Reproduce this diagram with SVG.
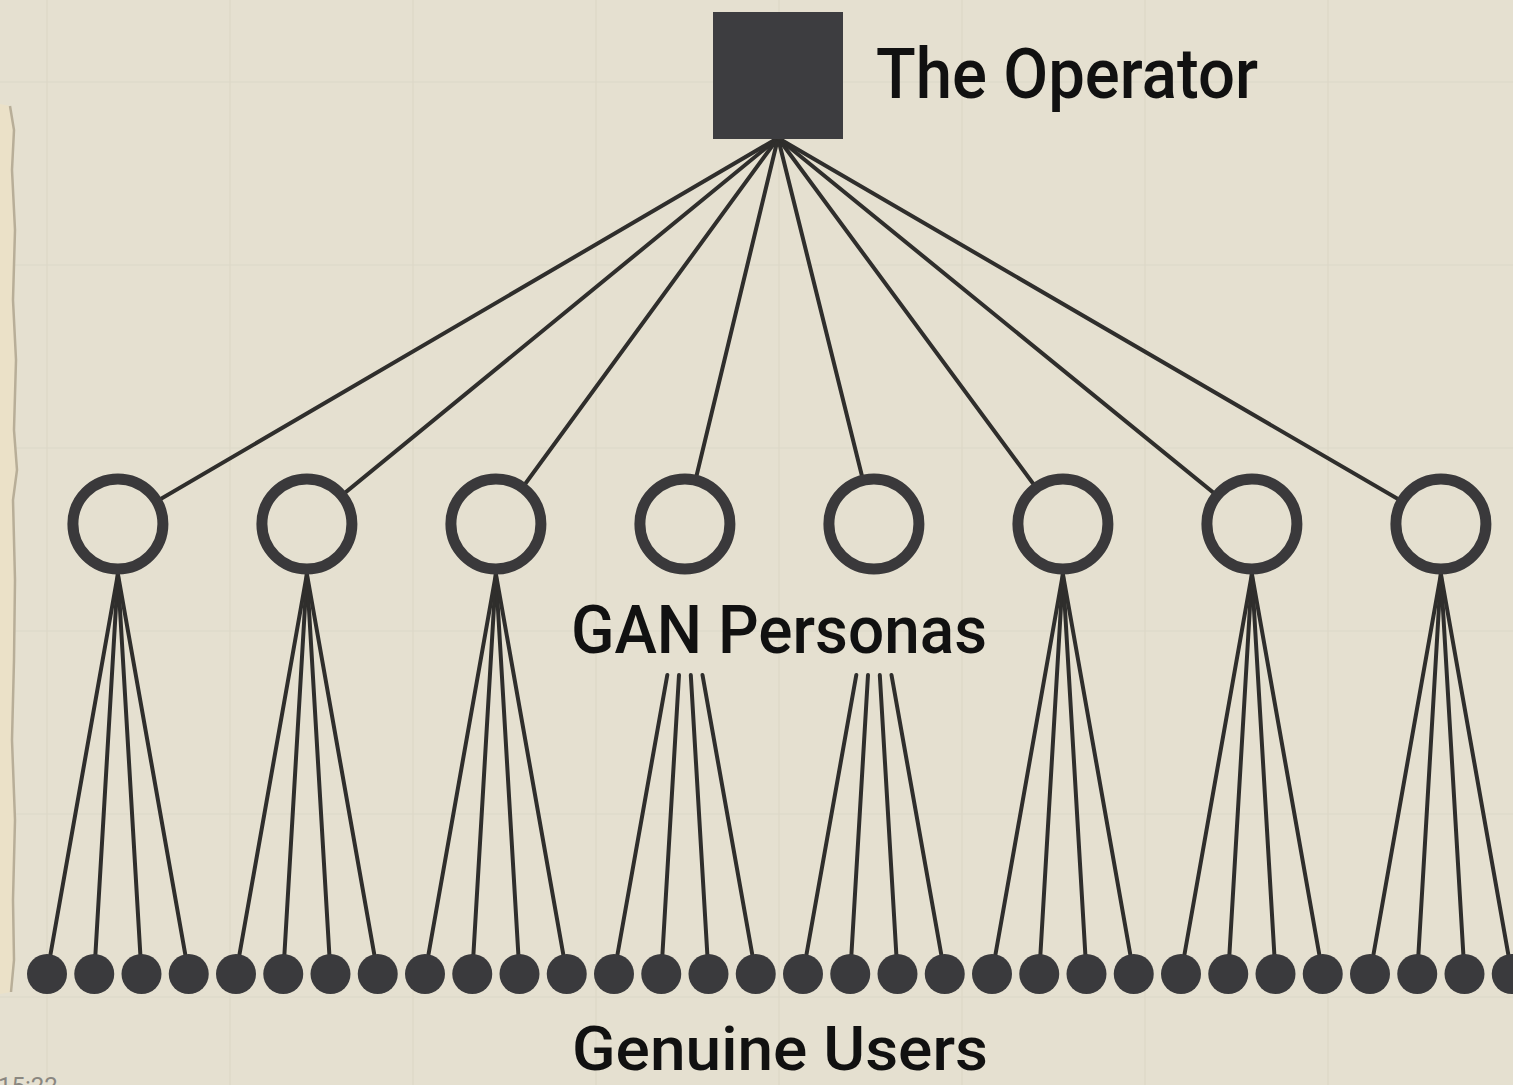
<svg xmlns="http://www.w3.org/2000/svg" width="1513" height="1085" viewBox="0 0 1513 1085">
<defs>
<style>
.bg{fill:#e5e0d0}
.grid{stroke:#dcd7c7;stroke-width:1.2;fill:none}
.link{stroke:#2f2e2c;stroke-width:4;stroke-linecap:round;fill:none}
.persona{fill:#e5e0d0;stroke:#3a393b;stroke-width:11}
.user{fill:#3a3a3d}
.op{fill:#3d3d40}
.label{font-family:Roboto,"Liberation Sans",sans-serif;font-weight:500;fill:#111111}
</style>
</defs>
<rect class="bg" x="0" y="0" width="1513" height="1085"/>
<g id="paper-grid">
<path class="grid" d="M47 0V1085M230 0V1085M413 0V1085M596 0V1085M779 0V1085M962 0V1085M1145 0V1085M1328 0V1085M0 82H1513M0 265H1513M0 448H1513M0 631H1513M0 814H1513M0 997H1513"/>
</g>
<g id="torn-strip">
<path d="M0 104 L10 106 L14 130 L12 170 L15 230 L13 300 L16 360 L14 430 L17 470 L13 500 L15 580 L14 660 L12 740 L15 820 L13 900 L14 960 L11 992 L0 994 Z" fill="#ebe1c8"/>
<path d="M10 106 L14 130 L12 170 L15 230 L13 300 L16 360 L14 430 L17 470 L13 500 L15 580 L14 660 L12 740 L15 820 L13 900 L14 960 L11 992" fill="none" stroke="#b8ae98" stroke-width="2.5"/>
</g>
<g id="connectors">
<g id="operator-links">
<line class="link" x1="778" y1="138" x2="117.9" y2="524"/>
<line class="link" x1="778" y1="138" x2="306.9" y2="524"/>
<line class="link" x1="778" y1="138" x2="495.9" y2="524"/>
<line class="link" x1="778" y1="138" x2="684.9" y2="524"/>
<line class="link" x1="778" y1="138" x2="873.9" y2="524"/>
<line class="link" x1="778" y1="138" x2="1062.9" y2="524"/>
<line class="link" x1="778" y1="138" x2="1251.9" y2="524"/>
<line class="link" x1="778" y1="138" x2="1440.9" y2="524"/>
</g>
<g id="persona-links">
<line class="link" x1="117.9" y1="574" x2="47" y2="974"/>
<line class="link" x1="117.9" y1="574" x2="94.25" y2="974"/>
<line class="link" x1="117.9" y1="574" x2="141.5" y2="974"/>
<line class="link" x1="117.9" y1="574" x2="188.75" y2="974"/>
<line class="link" x1="306.9" y1="574" x2="236" y2="974"/>
<line class="link" x1="306.9" y1="574" x2="283.25" y2="974"/>
<line class="link" x1="306.9" y1="574" x2="330.5" y2="974"/>
<line class="link" x1="306.9" y1="574" x2="377.75" y2="974"/>
<line class="link" x1="495.9" y1="574" x2="425" y2="974"/>
<line class="link" x1="495.9" y1="574" x2="472.25" y2="974"/>
<line class="link" x1="495.9" y1="574" x2="519.5" y2="974"/>
<line class="link" x1="495.9" y1="574" x2="566.75" y2="974"/>
<line class="link" x1="667.3" y1="675" x2="614" y2="974"/>
<line class="link" x1="679.0" y1="675" x2="661.25" y2="974"/>
<line class="link" x1="690.8" y1="675" x2="708.5" y2="974"/>
<line class="link" x1="702.5" y1="675" x2="755.75" y2="974"/>
<line class="link" x1="856.3" y1="675" x2="803" y2="974"/>
<line class="link" x1="868.0" y1="675" x2="850.25" y2="974"/>
<line class="link" x1="879.8" y1="675" x2="897.5" y2="974"/>
<line class="link" x1="891.5" y1="675" x2="944.75" y2="974"/>
<line class="link" x1="1062.9" y1="574" x2="992" y2="974"/>
<line class="link" x1="1062.9" y1="574" x2="1039.25" y2="974"/>
<line class="link" x1="1062.9" y1="574" x2="1086.5" y2="974"/>
<line class="link" x1="1062.9" y1="574" x2="1133.75" y2="974"/>
<line class="link" x1="1251.9" y1="574" x2="1181" y2="974"/>
<line class="link" x1="1251.9" y1="574" x2="1228.25" y2="974"/>
<line class="link" x1="1251.9" y1="574" x2="1275.5" y2="974"/>
<line class="link" x1="1251.9" y1="574" x2="1322.75" y2="974"/>
<line class="link" x1="1440.9" y1="574" x2="1370" y2="974"/>
<line class="link" x1="1440.9" y1="574" x2="1417.25" y2="974"/>
<line class="link" x1="1440.9" y1="574" x2="1464.5" y2="974"/>
<line class="link" x1="1440.9" y1="574" x2="1511.75" y2="974"/>
</g>
</g>
<g id="operator">
<rect class="op" x="713" y="12" width="130" height="127"/>
<text class="label" x="876" y="98" font-size="71" textLength="382" lengthAdjust="spacingAndGlyphs">The Operator</text>
</g>
<g id="personas">
<circle id="persona-1" class="persona" cx="117.9" cy="524" r="45"/>
<circle id="persona-2" class="persona" cx="306.9" cy="524" r="45"/>
<circle id="persona-3" class="persona" cx="495.9" cy="524" r="45"/>
<circle id="persona-4" class="persona" cx="684.9" cy="524" r="45"/>
<circle id="persona-5" class="persona" cx="873.9" cy="524" r="45"/>
<circle id="persona-6" class="persona" cx="1062.9" cy="524" r="45"/>
<circle id="persona-7" class="persona" cx="1251.9" cy="524" r="45"/>
<circle id="persona-8" class="persona" cx="1440.9" cy="524" r="45"/>
<text class="label" x="571" y="653" font-size="67" textLength="416" lengthAdjust="spacingAndGlyphs">GAN Personas</text>
</g>
<g id="users">
<circle class="user" cx="47" cy="974" r="20"/>
<circle class="user" cx="94.25" cy="974" r="20"/>
<circle class="user" cx="141.5" cy="974" r="20"/>
<circle class="user" cx="188.75" cy="974" r="20"/>
<circle class="user" cx="236" cy="974" r="20"/>
<circle class="user" cx="283.25" cy="974" r="20"/>
<circle class="user" cx="330.5" cy="974" r="20"/>
<circle class="user" cx="377.75" cy="974" r="20"/>
<circle class="user" cx="425" cy="974" r="20"/>
<circle class="user" cx="472.25" cy="974" r="20"/>
<circle class="user" cx="519.5" cy="974" r="20"/>
<circle class="user" cx="566.75" cy="974" r="20"/>
<circle class="user" cx="614" cy="974" r="20"/>
<circle class="user" cx="661.25" cy="974" r="20"/>
<circle class="user" cx="708.5" cy="974" r="20"/>
<circle class="user" cx="755.75" cy="974" r="20"/>
<circle class="user" cx="803" cy="974" r="20"/>
<circle class="user" cx="850.25" cy="974" r="20"/>
<circle class="user" cx="897.5" cy="974" r="20"/>
<circle class="user" cx="944.75" cy="974" r="20"/>
<circle class="user" cx="992" cy="974" r="20"/>
<circle class="user" cx="1039.25" cy="974" r="20"/>
<circle class="user" cx="1086.5" cy="974" r="20"/>
<circle class="user" cx="1133.75" cy="974" r="20"/>
<circle class="user" cx="1181" cy="974" r="20"/>
<circle class="user" cx="1228.25" cy="974" r="20"/>
<circle class="user" cx="1275.5" cy="974" r="20"/>
<circle class="user" cx="1322.75" cy="974" r="20"/>
<circle class="user" cx="1370" cy="974" r="20"/>
<circle class="user" cx="1417.25" cy="974" r="20"/>
<circle class="user" cx="1464.5" cy="974" r="20"/>
<circle class="user" cx="1511.75" cy="974" r="20"/>
<text class="label" x="572" y="1070" font-size="62" textLength="416" lengthAdjust="spacingAndGlyphs">Genuine Users</text>
</g>
<text x="-2" y="1094" font-family="Roboto,'Liberation Sans',sans-serif" font-size="24" fill="#8a8780">15:22</text>
</svg>
